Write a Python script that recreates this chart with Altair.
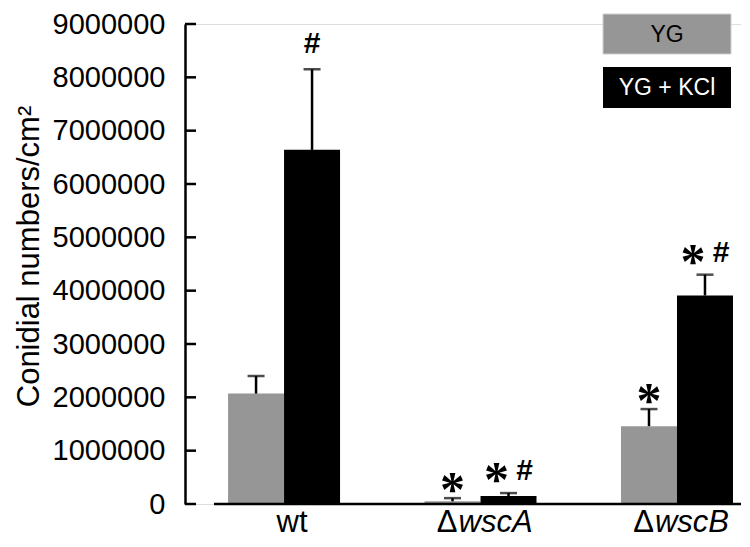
import altair as alt
import pandas as pd

# ---- data ----
groups = ["wt", "ΔwscA", "ΔwscB"]
label_prefix = ["", "Δ", "Δ"]
label_main = ["wt", "wscA", "wscB"]
label_italic = [False, True, True]
series = ["YG", "YG + KCl"]
series_colors = ["#969696", "#000000"]
yg_values = [2070000, 50000, 1460000]
kcl_values = [6640000, 150000, 3910000]
yg_errors = [330000, 60000, 320000]
kcl_errors = [1510000, 55000, 390000]
yg_marks = ["", "*", "*"]
kcl_marks = ["#", "*#", "*#"]
y_ticks = [0, 1000000, 2000000, 3000000, 4000000, 5000000,
           6000000, 7000000, 8000000, 9000000]

# ---- build table ----
rows = []
for i, g in enumerate(groups):
    for s, vals, errs, marks in [
        (series[0], yg_values, yg_errors, yg_marks),
        (series[1], kcl_values, kcl_errors, kcl_marks),
    ]:
        rows.append({
            "group": g,
            "series": s,
            "value": vals[i],
            "upper": vals[i] + errs[i],
            "star": "*" in marks[i],
            "hash": "#" in marks[i],
        })
df = pd.DataFrame(rows)

labels_df = pd.DataFrame({
    "group": groups,
    "prefix": label_prefix,
    "main": label_main,
    "italic": label_italic,
})
ticks_df = pd.DataFrame({"v": y_ticks})

W, H = 556, 480
FONT = "Liberation Sans"

xscale = alt.Scale(domain=groups, paddingInner=0.43, paddingOuter=0.13, align=0.843)
yscale = alt.Scale(domain=[0, 9000000], nice=False, zero=True)
xenc = alt.X("group:N", sort=groups, scale=xscale, axis=None)
xoff = alt.XOffset("series:N", sort=series,
                   scale=alt.Scale(domain=series, paddingInner=0, paddingOuter=0))

yaxis = alt.Axis(
    values=y_ticks, format="d", grid=False, ticks=False,
    domain=True, domainColor="black", domainWidth=2.5,
    labelFont=FONT, labelFontSize=29, labelColor="black", labelPadding=20,
    title="Conidial numbers/cm²", titleFont=FONT, titleFontSize=31,
    titleFontWeight="normal", titleColor="black",
    titleAngle=270, titleX=-156, titleY=232,
    titleAlign="center", titleBaseline="middle",
)

base = alt.Chart(df)

bars = base.mark_bar().encode(
    x=xenc, xOffset=xoff,
    y=alt.Y("value:Q", scale=yscale, axis=yaxis),
    color=alt.Color("series:N", scale=alt.Scale(domain=series, range=series_colors), legend=None),
)

stems = base.mark_rule(color="black", strokeWidth=2.5).encode(
    x=xenc, xOffset=xoff, y="value:Q", y2="upper:Q"
)
caps = base.mark_tick(color="black", thickness=2.5, size=17).encode(
    x=xenc, xOffset=xoff, y="upper:Q"
)

baseline = alt.Chart(ticks_df).mark_rule(color="black", strokeWidth=2.5).encode(
    y=alt.datum(0), x=alt.value(29), x2=alt.value(W)
).transform_filter("datum.v == 0")

yticks_in = alt.Chart(ticks_df).mark_rule(color="black", strokeWidth=2.5).encode(
    y="v:Q", x=alt.value(0), x2=alt.value(11)
)

star_font = dict(font="Liberation Serif", fontSize=50, fontWeight="bold", color="black",
                 baseline="alphabetic", align="center")
hash_font = dict(font=FONT, fontSize=30, fontWeight="bold", color="black",
                 baseline="alphabetic", align="center")

star_only = base.mark_text(text="*", dy=8, **star_font).encode(
    x=xenc, xOffset=xoff, y="upper:Q").transform_filter("datum.star && !datum.hash")
star_both = base.mark_text(text="*", dy=3, dx=-12, **star_font).encode(
    x=xenc, xOffset=xoff, y="upper:Q").transform_filter("datum.star && datum.hash")
hash_only = base.mark_text(text="#", dy=-16, **hash_font).encode(
    x=xenc, xOffset=xoff, y="upper:Q").transform_filter("!datum.star && datum.hash")
hash_both = base.mark_text(text="#", dy=-13, dx=16, **hash_font).encode(
    x=xenc, xOffset=xoff, y="upper:Q").transform_filter("datum.star && datum.hash")

lab = alt.Chart(labels_df)
LAB_DY = 28
lab_plain = lab.mark_text(font=FONT, fontSize=31, color="black", align="center",
                          baseline="alphabetic", dy=LAB_DY, dx=8).encode(
    x=xenc, y=alt.value(H), text="main:N").transform_filter("!datum.italic")
lab_prefix = lab.mark_text(font=FONT, fontSize=31, color="black", align="right",
                           baseline="alphabetic", dy=LAB_DY, dx=-23).encode(
    x=xenc, y=alt.value(H), text="prefix:N").transform_filter("datum.italic")
lab_main = lab.mark_text(font=FONT, fontSize=31, fontStyle="italic", color="black",
                         align="left", baseline="alphabetic", dy=LAB_DY, dx=-22).encode(
    x=xenc, y=alt.value(H), text="main:N").transform_filter("datum.italic")

leg_df = pd.DataFrame({"series": series, "color": series_colors})
leg = alt.Chart(leg_df)
leg_box1 = leg.mark_rect(color=series_colors[0], stroke="#cfcfcf", strokeWidth=1).encode(
    x=alt.value(418), x2=alt.value(546), y=alt.value(-10), y2=alt.value(30)
).transform_filter(alt.datum.series == series[0])
leg_box2 = leg.mark_rect(color=series_colors[1]).encode(
    x=alt.value(418), x2=alt.value(546), y=alt.value(43), y2=alt.value(84)
).transform_filter(alt.datum.series == series[1])
leg_txt1 = leg.mark_text(font=FONT, fontSize=23, color="black", baseline="middle").encode(
    x=alt.value(482), y=alt.value(11), text="series:N"
).transform_filter(alt.datum.series == series[0])
leg_txt2 = leg.mark_text(font=FONT, fontSize=23, color="white", baseline="middle").encode(
    x=alt.value(482), y=alt.value(64), text="series:N"
).transform_filter(alt.datum.series == series[1])

chart = alt.layer(
    bars, stems, caps, baseline, yticks_in,
    star_only, star_both, hash_only, hash_both,
    lab_plain, lab_prefix, lab_main,
    leg_box1, leg_box2, leg_txt1, leg_txt2,
).properties(
    width=W, height=H,
    autosize=alt.AutoSizeParams(type="none"),
    padding={"left": 177, "top": 16, "right": 0, "bottom": 35},
).configure_view(stroke=None).configure(background="white")

chart.save("out.html", embed_options={"renderer": "svg", "actions": False})
